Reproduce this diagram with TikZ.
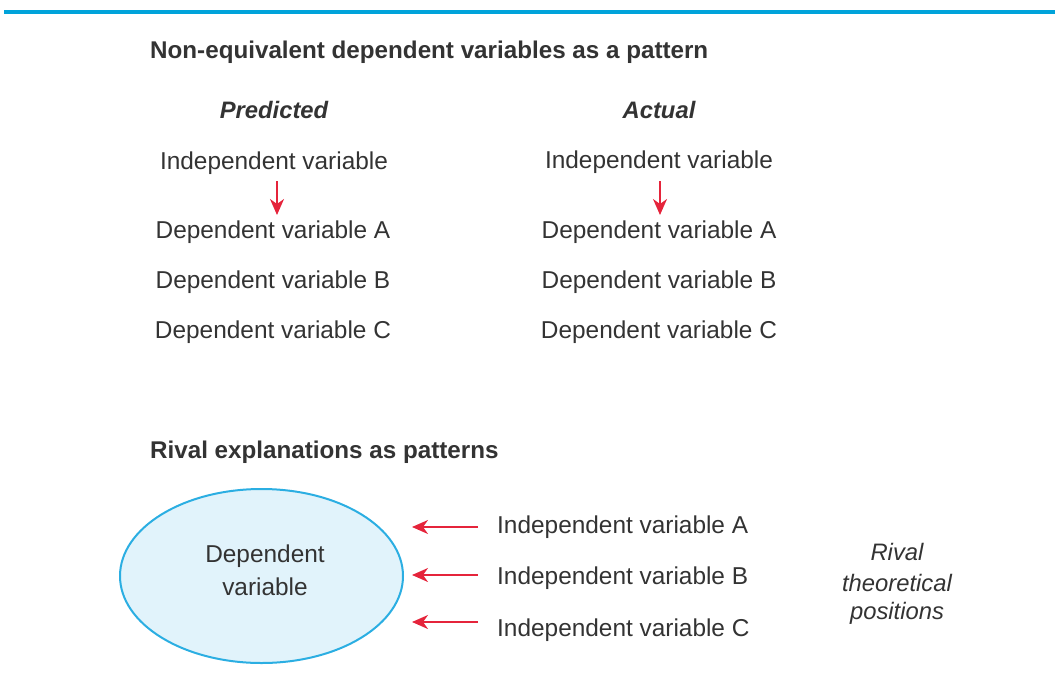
\documentclass[tikz,border=0pt]{standalone}
\usepackage{fontspec}
\setmainfont{Liberation Sans}
\usetikzlibrary{arrows.meta,shapes.geometric}
\definecolor{txt}{HTML}{333333}
\definecolor{rline}{HTML}{E5243B}
\definecolor{bline}{HTML}{00A3DA}
\definecolor{efill}{HTML}{E1F3FB}
\definecolor{eline}{HTML}{2BAEE2}
\tikzset{
  lbl/.style={inner sep=0pt, anchor=base, text=txt, font=\fontsize{24.4}{28}\selectfont},
  ttl/.style={inner sep=0pt, anchor=base west, text=txt, font=\fontsize{24.2}{28}\selectfont\bfseries},
  hdr/.style={inner sep=0pt, anchor=base, text=txt, font=\fontsize{23.8}{28}\selectfont\bfseries\itshape},
  ital/.style={inner sep=0pt, anchor=base, text=txt, font=\fontsize{23.8}{28}\selectfont\itshape},
  redarrow/.style={draw=rline, line width=1.8pt, -{Stealth[length=16pt,width=14pt,inset=5pt]}},
}
\begin{document}
\begin{tikzpicture}[x=1pt,y=-1pt]
\useasboundingbox (0,0) rectangle (1055,683);
\draw[bline, line width=3.5pt] (4,12) coordinate (tl) -- (1055,12) coordinate (tr);

\node[ttl] (t1) at (150,58) {Non-equivalent dependent variables as a pattern};
\node[hdr] (pred) at (274,118) {Predicted};
\node[hdr] (act) at (659,118) {Actual};

\node[lbl] (ivL) at (274,169) {Independent variable};
\node[lbl] (daL) at (273,238) {Dependent variable A};
\node[lbl] (dbL) at (273,288) {Dependent variable B};
\node[lbl] (dcL) at (273,338) {Dependent variable C};

\node[lbl] (ivR) at (659,168) {Independent variable};
\node[lbl] (daR) at (659,238) {Dependent variable A};
\node[lbl] (dbR) at (659,288) {Dependent variable B};
\node[lbl] (dcR) at (659,338) {Dependent variable C};

\coordinate (aLs) at (277,181); \coordinate (aLe) at (277,215);
\coordinate (aRs) at (660,181); \coordinate (aRe) at (660,215);
\draw[redarrow] (aLs) -- (aLe);
\draw[redarrow] (aRs) -- (aRe);

\node[ttl] (t2) at (150,458) {Rival explanations as patterns};

\node[ellipse, draw=eline, fill=efill, line width=2pt, minimum width=283pt, minimum height=174pt, inner sep=0pt] (dv) at (261.5,576) {};
\node[lbl] (dv1) at (265,562) {Dependent};
\node[lbl] (dv2) at (265,595) {variable};

\node[lbl, anchor=base west] (ivA) at (497,533) {Independent variable A};
\node[lbl, anchor=base west] (ivB) at (497,584) {Independent variable B};
\node[lbl, anchor=base west] (ivC) at (497,636) {Independent variable C};

\coordinate (bAs) at (478,527); \coordinate (bAe) at (412,527);
\coordinate (bBs) at (478,575); \coordinate (bBe) at (412,575);
\coordinate (bCs) at (478,622); \coordinate (bCe) at (412,622);
\draw[redarrow] (bAs) -- (bAe);
\draw[redarrow] (bBs) -- (bBe);
\draw[redarrow] (bCs) -- (bCe);

\node[ital] (r1) at (897,560) {Rival};
\node[ital] (r2) at (897,591) {theoretical};
\node[ital] (r3) at (897,619) {positions};
\end{tikzpicture}
\end{document}
